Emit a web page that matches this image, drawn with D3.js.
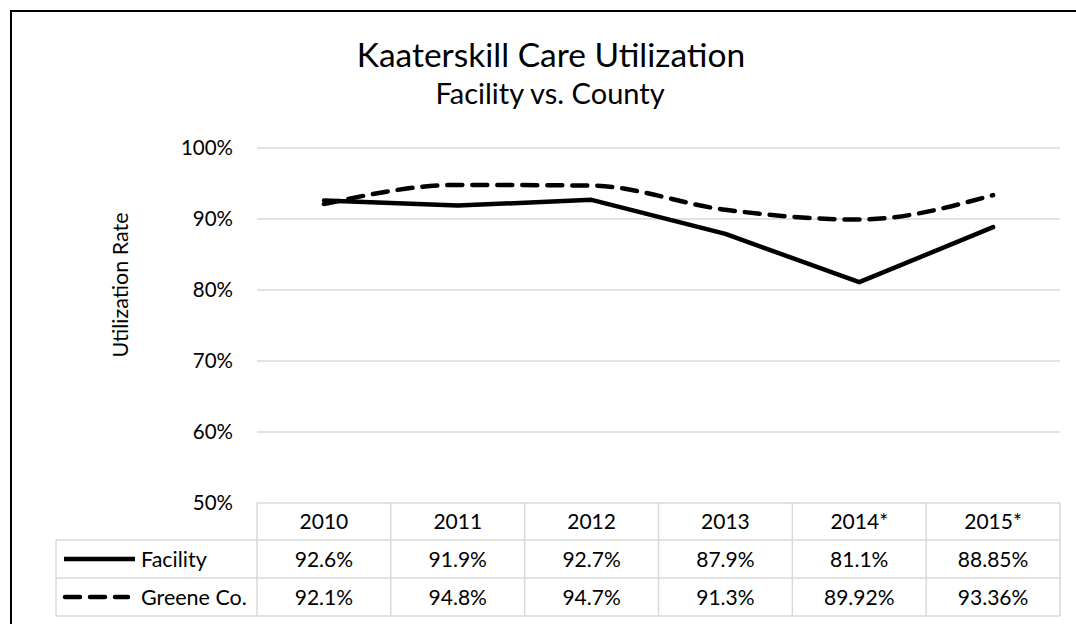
<!DOCTYPE html>
<html lang="en">
<head>
<meta charset="UTF-8">
<title>Kaaterskill Care Utilization</title>
<script src="https://d3js.org/d3.v7.min.js"></script>
<style>
    html, body { margin: 0; padding: 0; background: #fff; overflow: hidden; }
    svg { display: block; }
    svg text { font-family: Lato, "Open Sans", sans-serif; fill: #000; }
</style>
</head>
<body>
<div id="chart"></div>
<script>
    // data
    const years = ['2010', '2011', '2012', '2013', '2014*', '2015*'];
    const facility = [0.926, 0.919, 0.927, 0.879, 0.811, 0.8885];
    const county = [0.921, 0.948, 0.947, 0.913, 0.8992, 0.9336];
    const facilityLabels = ['92.6%', '91.9%', '92.7%', '87.9%', '81.1%', '88.85%'];
    const countyLabels = ['92.1%', '94.8%', '94.7%', '91.3%', '89.92%', '93.36%'];
    const yTicks = [0.5, 0.6, 0.7, 0.8, 0.9, 1.0];

    const width = 1076;
    const height = 624;
    const plotLeft = 257, plotRight = 1060, plotTop = 148, plotBottom = 503;
    const legendLeft = 56;
    const rowTops = [503, 540, 578, 616];
    const bodySize = '21px';

    const svg = d3.select('#chart')
        .append('svg')
        .attr('width', width)
        .attr('height', height);

    // outer frame: only its left and top edges are inside the picture
    svg.append('path')
        .attr('d', `M11,${height} V11 H${width}`)
        .attr('fill', 'none')
        .attr('stroke', '#000')
        .attr('stroke-width', 2);

    const x = d3.scaleBand().domain(years).range([plotLeft, plotRight]);
    const y = d3.scaleLinear().domain([0.5, 1]).range([plotBottom, plotTop]);
    const cx = d => x(d) + x.bandwidth() / 2;

    // titles
    svg.append('text')
        .attr('x', 551).attr('y', 67)
        .attr('text-anchor', 'middle')
        .style('font-size', '33.5px')
        .text('Kaaterskill Care Utilization');
    svg.append('text')
        .attr('x', 550).attr('y', 104)
        .attr('text-anchor', 'middle')
        .style('font-size', '29px')
        .text('Facility vs. County');

    // gridlines
    svg.append('g')
        .selectAll('line')
        .data(yTicks.filter(t => t > 0.5))
        .join('line')
        .attr('x1', plotLeft).attr('x2', plotRight)
        .attr('y1', d => y(d)).attr('y2', d => y(d))
        .attr('stroke', '#d9d9d9')
        .attr('stroke-width', 1.5);

    // y axis
    const yAxis = svg.append('g')
        .attr('transform', `translate(${plotLeft},0)`)
        .call(d3.axisLeft(y).tickValues(yTicks).tickFormat(d3.format('.0%')).tickSize(0).tickPadding(24));
    yAxis.select('.domain').remove();
    yAxis.selectAll('text')
        .style('font-size', '20.5px')
        .style('font-family', 'Lato, sans-serif');

    svg.append('text')
        .attr('transform', 'translate(128,285) rotate(-90)')
        .attr('text-anchor', 'middle')
        .style('font-size', '21.5px')
        .text('Utilization Rate');

    // data table
    const grid = svg.append('g')
        .attr('stroke', '#d9d9d9')
        .attr('stroke-width', 1.5)
        .attr('fill', 'none');
    grid.append('line').attr('x1', plotLeft).attr('x2', plotRight).attr('y1', rowTops[0]).attr('y2', rowTops[0]);
    rowTops.slice(1).forEach(r => {
        grid.append('line').attr('x1', legendLeft).attr('x2', plotRight).attr('y1', r).attr('y2', r);
    });
    grid.append('line').attr('x1', legendLeft).attr('x2', legendLeft).attr('y1', rowTops[1]).attr('y2', rowTops[3]);
    years.forEach(yr => {
        grid.append('line').attr('x1', x(yr)).attr('x2', x(yr)).attr('y1', rowTops[0]).attr('y2', rowTops[3]);
    });
    grid.append('line').attr('x1', plotRight).attr('x2', plotRight).attr('y1', rowTops[0]).attr('y2', rowTops[3]);

    const rowMid = i => (rowTops[i] + rowTops[i + 1]) / 2;
    const rows = [years, facilityLabels, countyLabels];
    rows.forEach((vals, i) => {
        svg.append('g')
            .selectAll('text')
            .data(vals)
            .join('text')
            .attr('x', (d, j) => cx(years[j]))
            .attr('y', rowMid(i))
            .attr('dy', '0.36em')
            .attr('text-anchor', 'middle')
            .style('font-size', bodySize)
            .text(d => d);
    });

    // legend keys
    const series = [
        { name: 'Facility', values: facility, dash: null, curve: d3.curveLinear },
        { name: 'Greene Co.', values: county, dash: '15 10', curve: d3.curveMonotoneX }
    ];
    series.forEach((s, i) => {
        const ym = rowMid(i + 1);
        svg.append('line')
            .attr('x1', s.dash ? 65 : 64).attr('x2', s.dash ? 128 : 135)
            .attr('y1', ym).attr('y2', ym)
            .attr('stroke', '#000')
            .attr('stroke-width', 4.5)
            .attr('stroke-linecap', s.dash ? 'round' : 'butt')
            .attr('stroke-dasharray', s.dash);
        svg.append('text')
            .attr('x', 141).attr('y', ym)
            .attr('dy', '0.36em')
            .style('font-size', '21.5px')
            .text(s.name);
    });

    // lines
    series.forEach(s => {
        const line = d3.line()
            .x((d, j) => cx(years[j]))
            .y(d => y(d))
            .curve(s.curve);
        svg.append('path')
            .datum(s.values)
            .attr('d', line)
            .attr('fill', 'none')
            .attr('stroke', '#000')
            .attr('stroke-width', 4.5)
            .attr('stroke-linejoin', 'round')
            .attr('stroke-linecap', 'round')
            .attr('stroke-dasharray', s.dash);
    });
</script>
</body>
</html>
